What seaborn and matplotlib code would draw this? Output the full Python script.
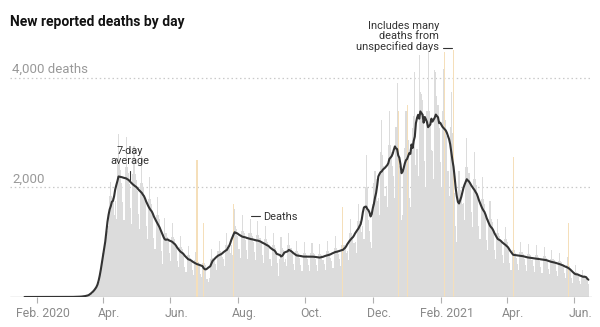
import numpy as np
import pandas as pd
import matplotlib
matplotlib.use('Agg')
import matplotlib.pyplot as plt
import matplotlib.dates as mdates
import matplotlib.transforms as mtrans
from matplotlib.lines import Line2D
import seaborn as sns

# ---------------- data ----------------
START = '2020-01-19'  # a Sunday; one row per week below (Sun..Sat)
daily_deaths = [
    0, 0, 0, 0, 0, 0, 0,
    0, 0, 0, 0, 0, 0, 0,
    0, 0, 0, 0, 0, 0, 0,
    0, 0, 0, 0, 0, 0, 0,
    0, 0, 0, 0, 0, 0, 0,
    0, 0, 0, 0, 0, 1, 0,
    1, 1, 2, 1, 3, 2, 2,
    2, 4, 4, 6, 7, 10, 9,
    9, 18, 22, 26, 30, 40, 48,
    60, 110, 130, 150, 170, 200, 240,
    280, 420, 620, 800, 950, 1100, 1100,
    1200, 1300, 1850, 2100, 1850, 1800, 1500,
    1760, 1430, 2420, 2970, 2420, 2310, 2090,
    1730, 1410, 2380, 2920, 2380, 2270, 2060,
    1630, 1330, 2240, 2750, 2240, 2140, 1940,
    1520, 1240, 2090, 2570, 2090, 2000, 1800,
    1300, 1050, 1780, 2190, 1780, 1700, 1540,
    1080, 880, 1490, 1820, 1490, 1420, 1280,
    840, 600, 1150, 1450, 1160, 1100, 1050,
    800, 650, 1100, 1350, 1100, 1050, 950,
    660, 540, 910, 1120, 910, 870, 790,
    550, 450, 760, 930, 760, 720, 660,
    490, 400, 670, 820, 670, 640, 580,
    420, 360, 620, 760, 620, 580, 330,
    280, 340, 700, 880, 720, 680, 660,
    610, 500, 840, 1030, 840, 800, 730,
    690, 560, 950, 1160, 950, 900, 810,
    950, 770, 1300, 1600, 1300, 1240, 1120,
    880, 720, 1210, 1490, 1210, 1160, 1040,
    850, 690, 1170, 1430, 1170, 1110, 1000,
    820, 670, 1130, 1390, 1130, 1080, 990,
    770, 620, 1060, 1300, 1060, 1010, 900,
    690, 560, 950, 1160, 950, 900, 810,
    620, 380, 700, 1100, 900, 850, 630,
    690, 560, 950, 1160, 950, 900, 810,
    610, 490, 840, 1030, 840, 800, 710,
    590, 480, 810, 1000, 810, 770, 700,
    590, 480, 810, 990, 810, 780, 700,
    580, 470, 790, 970, 790, 760, 680,
    610, 490, 840, 1030, 840, 800, 710,
    660, 530, 900, 1110, 900, 860, 780,
    690, 560, 950, 1160, 950, 900, 810,
    840, 680, 1160, 1420, 1160, 1100, 990,
    1000, 810, 1380, 1690, 1380, 1310, 1180,
    1300, 1050, 2000, 2600, 2000, 1400, 1200,
    1000, 900, 1700, 2090, 2300, 2150, 1760,
    1800, 1500, 2650, 3240, 2600, 2400, 1840,
    2020, 1640, 2770, 3400, 2770, 2650, 2390,
    2200, 1800, 3100, 3900, 3200, 2400, 2300,
    1400, 1500, 2300, 2720, 3400, 2900, 2860,
    1800, 1650, 2700, 3080, 3300, 4100, 2410,
    2700, 2200, 4420, 3750, 3700, 3600, 3346,
    2480, 2000, 3400, 4480, 3400, 3250, 2690,
    2660, 2160, 4150, 4100, 3660, 3500, 3080,
    2470, 2000, 3400, 4160, 3400, 3240, 2930,
    2300, 1850, 3100, 3750, 3000, 2600, 1900,
    1300, 1000, 1800, 2300, 1950, 1900, 1700,
    1720, 1400, 2370, 2900, 2370, 2260, 2030,
    1560, 1270, 2150, 2640, 2150, 2050, 1850,
    1300, 1050, 1780, 2190, 1780, 1700, 1530,
    1040, 850, 1430, 1760, 1430, 1370, 1230,
    850, 690, 1170, 1430, 1170, 1110, 1000,
    760, 620, 1050, 1280, 1050, 1000, 900,
    620, 500, 850, 1040, 850, 810, 720,
    600, 490, 830, 1010, 830, 790, 700,
    580, 470, 790, 970, 790, 760, 680,
    560, 460, 770, 950, 770, 730, 660,
    540, 440, 750, 920, 750, 710, 650,
    510, 420, 700, 860, 700, 670, 620,
    480, 390, 660, 810, 660, 630, 570,
    430, 350, 590, 730, 590, 570, 520,
    340, 250, 460, 580, 460, 440, 410,
    300, 240, 410, 500, 410, 390, 340,
    290, 240,
]
# days that include many deaths from unspecified days (extra on top of the regular count)
backlog_dates = ['2020-06-25', '2020-07-01', '2020-07-28', '2020-11-04', '2020-12-24',
                 '2021-01-01', '2021-02-04', '2021-02-12', '2021-04-07', '2021-05-27']
backlog_deaths = [1830, 590, 400, 490, 200, 600, 1080, 1900, 1520, 760]

tick_dates = ['2020-02-01', '2020-04-01', '2020-06-01', '2020-08-01', '2020-10-01',
              '2020-12-01', '2021-02-01', '2021-04-01', '2021-06-01']
tick_labels = ['Feb. 2020', 'Apr.', 'Jun.', 'Aug.', 'Oct.', 'Dec.', 'Feb. 2021', 'Apr.', 'Jun.']
y_grid = [2000, 4000]
y_grid_labels = ['2,000', '4,000 deaths']
title = 'New reported deaths by day'

# ---------------- build table ----------------
sns.set_style('white')
plt.rcParams['font.family'] = ['Roboto', 'DejaVu Sans']

dates = pd.date_range(START, periods=len(daily_deaths), freq='D')
df = pd.DataFrame({'date': dates, 'regular': np.array(daily_deaths, dtype=float)})
bl = pd.Series(backlog_deaths, index=pd.to_datetime(backlog_dates), dtype=float)
df['backlog'] = df['date'].map(bl).fillna(0.0)
df['total'] = df['regular'] + df['backlog']
df['avg'] = df['regular'].rolling(7, center=True, min_periods=1).mean()
df['x'] = np.round(mdates.date2num(df['date'])).astype(int)
df['flag'] = df['backlog'] > 0

# ---------------- figure ----------------
W, H = 600, 327
fig = plt.figure(figsize=(W / 100, H / 100), dpi=100)
ax = fig.add_axes([10 / W, 30 / H, 581.7 / W, 252 / H])

def px(x, y):
    return (x / W, 1 - y / H)

for yv in y_grid:
    ax.axhline(yv, color='#c9c9c9', lw=0.9, ls=(0, (1.2, 2.2)), zorder=0)

sns.histplot(data=df[~df['flag']], x='x', weights='total', discrete=True, shrink=1,
             color='#dcdcdc', alpha=1, linewidth=0, ax=ax, zorder=1)
sns.histplot(data=df[df['flag']], x='x', weights='total', discrete=True, shrink=1,
             color='#f5dfba', alpha=1, linewidth=0, ax=ax, zorder=1)

line_df = df.iloc[2:]
sns.lineplot(data=line_df, x='x', y='avg', color='#333333', lw=1.5, ax=ax, zorder=3)

ax.axhline(0, color='#c4c4c4', lw=1.0, zorder=2)

feb1 = mdates.date2num(pd.Timestamp('2020-02-01'))
ax.set_xlim(feb1 - 24.15, feb1 + 502.0)
ax.set_ylim(0, 4600)
for s in ax.spines.values():
    s.set_visible(False)
ax.set_xticks(mdates.date2num(pd.to_datetime(tick_dates)))
ax.set_xticklabels(tick_labels)
ax.set_yticks([])
ax.set_xlabel('')
ax.set_ylabel('')
ax.tick_params(axis='x', bottom=True, length=4, width=0.8, color='#b0b0b0',
               labelcolor='#8a8a8a', labelsize=8.8, pad=3)
shift = mtrans.ScaledTranslation(6 / 100, 0, fig.dpi_scale_trans)
for lab in ax.get_xticklabels():
    lab.set_transform(lab.get_transform() + shift)

tr = mtrans.blended_transform_factory(ax.transAxes, ax.transData)
for yv, lab in zip(y_grid, y_grid_labels):
    ax.text(0.004, yv + 85, lab, transform=tr, ha='left', va='baseline',
            fontsize=9.5, color='#999999')

fig.text(*px(10, 26), title, fontsize=10, fontweight='bold', color='#121212',
         ha='left', va='baseline')

ann = dict(fontsize=7.9, color='#333333', va='top', linespacing=1.05)
fig.text(*px(129.5, 145.6), '7-day\naverage', ha='center', multialignment='center', **ann)
fig.add_artist(Line2D([130 / W, 130 / W], [1 - 171 / H, 1 - 180 / H], color='#333333', lw=0.8))

fig.add_artist(Line2D([251 / W, 260 / W], [1 - 215.7 / H, 1 - 215.7 / H], color='#333333', lw=0.8))
fig.text(*px(263.3, 211.6), 'Deaths', ha='left', **ann)

fig.text(*px(439.3, 20.6), 'Includes many\ndeaths from\nunspecified days', ha='right',
         multialignment='right', **ann)
fig.add_artist(Line2D([442.7 / W, 451.7 / W], [1 - 48.3 / H, 1 - 48.3 / H], color='#333333', lw=0.8))

fig.savefig('out.png', dpi=100)
